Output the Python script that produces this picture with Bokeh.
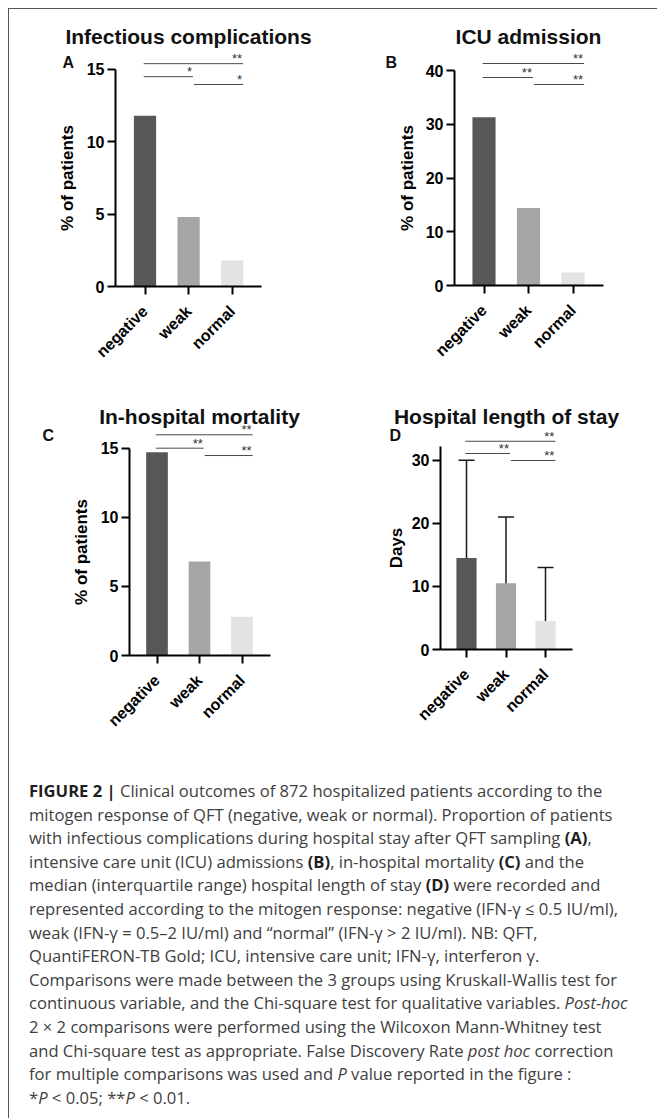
import math
from bokeh.plotting import figure
from bokeh.models import Range1d, FixedTicker, Label, ColumnDataSource, Whisker, TeeHead, Div
from bokeh.layouts import column, row
from bokeh.embed import file_html
from bokeh.resources import INLINE
from bokeh.core.properties import value

# ---------------- data ----------------
categories = ["negative", "weak", "normal"]
infectious_pct = [11.8, 4.8, 1.8]
icu_pct = [31.3, 14.4, 2.4]
mortality_pct = [14.7, 6.8, 2.8]
los_median = [14.5, 10.5, 4.5]
los_q1 = [10, 5, 3]
los_q3 = [30, 21, 13]

# comparisons: negative-normal, negative-weak, weak-normal
sig_A = ["**", "*", "*"]
sig_B = ["**", "**", "**"]
sig_C = ["**", "**", "**"]
sig_D = ["**", "**", "**"]

yticks_A = [0, 5, 10, 15]
yticks_B = [0, 10, 20, 30, 40]
yticks_C = [0, 5, 10, 15]
yticks_D = [0, 10, 20, 30]

# ---------------- styles / layout ----------------
bar_colors = ["#575757", "#a6a6a6", "#e3e3e3"]
FONT = "Liberation Sans"
# horizontal extents of the three significance lines (category units)
sig_x0 = [-0.03, -0.03, 1.12]
sig_x1 = [2.25, 1.10, 2.25]

# layout in pixels (page coordinates): figure origin, frame box, zero line, axis extents,
# category spacing, position of first category, pixels per y unit, title/letter anchors
cfgA = dict(ox=9, oy=9, w=322, fl=40, fr=321, ft=17, y0=286, al=115, ar=261, u=43.6, c0=144.5,
            v=14.47, bw=0.51, ybound=15, tx=188, ty=36, lx=62, ly=62, ls=7, sy=[15.4, 14.5, 13.96])
cfgB = dict(ox=331, oy=9, w=318, fl=360, fr=640, ft=17, y0=285, al=454, ar=603, u=44.5, c0=483.5,
            v=5.375, bw=0.52, ybound=40, tx=528, ty=36, lx=385, ly=62, ls=6, sy=[41.3, 38.7, 37.4])
cfgC = dict(ox=9, oy=389, w=322, fl=35, fr=321, ft=397, y0=655, al=129, ar=270, u=42.5, c0=156.5,
            v=13.82, bw=0.51, ybound=15, tx=199, ty=416, lx=42, ly=435, ls=7, sy=[15.97, 15.0, 14.47])
cfgD = dict(ox=331, oy=389, w=318, fl=360, fr=640, ft=397, y0=649, al=440, ar=572, u=39.5, c0=466,
            v=6.31, bw=0.51, ybound=32.1, tx=506, ty=416, lx=389, ly=435, ls=3, sy=[33.0, 31.06, 29.95])
FIG_H = 380
BOTTOM_PAD = 4


def make_panel(title, letter, ylabel, values, yticks, sig, cfg, q1=None, q3=None):
    u, c0, v = cfg["u"], cfg["c0"], cfg["v"]
    fb = cfg["oy"] + FIG_H - BOTTOM_PAD
    xr = ((cfg["fl"] - c0) / u, (cfg["fr"] - c0) / u)
    xb = ((cfg["al"] - c0) / u, (cfg["ar"] - c0) / u)
    yr = (-(fb - cfg["y0"]) / v, (cfg["y0"] - cfg["ft"]) / v)
    p = figure(width=cfg["w"], height=FIG_H,
               x_range=Range1d(*xr), y_range=Range1d(*yr),
               output_backend="svg", toolbar_location=None,
               min_border_left=cfg["fl"] - cfg["ox"], min_border_right=cfg["ox"] + cfg["w"] - cfg["fr"],
               min_border_top=cfg["ft"] - cfg["oy"], min_border_bottom=BOTTOM_PAD)
    p.outline_line_color = None
    p.background_fill_color = "white"
    p.border_fill_color = "white"
    p.xgrid.visible = False
    p.ygrid.visible = False

    xs = list(range(len(categories)))
    p.vbar(x=xs, top=values, width=cfg["bw"], fill_color=bar_colors, line_color=None)

    if q1 is not None:
        src = ColumnDataSource(dict(x=xs, lower=q1, upper=q3))
        w = Whisker(base="x", lower="lower", upper="upper", source=src,
                    line_color="#1a1a1a", line_width=1.5,
                    upper_head=TeeHead(size=16, line_color="#1a1a1a", line_width=1.5),
                    lower_head=TeeHead(size=16, line_color="#1a1a1a", line_width=1.5))
        p.add_layout(w)

    # significance brackets
    p.segment(x0=sig_x0, y0=cfg["sy"], x1=sig_x1, y1=cfg["sy"], line_color="#4a4a4a", line_width=1)
    p.text(x=sig_x1, y=cfg["sy"], text=sig, text_align="right", text_baseline="alphabetic",
           text_font=value(FONT), text_font_size=value("13px"), text_color="#333333",
           x_offset=-1, y_offset=-5)

    # axes
    for ax in (p.xaxis[0], p.yaxis[0]):
        ax.axis_line_width = 2
        ax.axis_line_color = "black"
        ax.major_tick_line_width = 2
        ax.major_tick_line_color = "black"
        ax.major_tick_out = 8
        ax.major_tick_in = 0
        ax.minor_tick_line_color = None
        ax.major_label_text_font = FONT
        ax.major_label_text_font_style = "bold"
        ax.major_label_text_color = "black"
    p.xaxis.fixed_location = 0
    p.xaxis.ticker = FixedTicker(ticks=xs)
    p.xaxis.bounds = xb
    p.xaxis.major_label_overrides = {i: c for i, c in enumerate(categories)}
    p.xaxis.major_label_orientation = math.pi / 4
    p.xaxis.major_label_text_font_size = "16px"
    p.xaxis.major_label_standoff = 14

    p.yaxis.fixed_location = xb[0]
    p.yaxis.ticker = FixedTicker(ticks=yticks)
    p.yaxis.bounds = (0, cfg["ybound"])
    p.yaxis.major_label_text_font_size = "16px"
    p.yaxis.major_label_standoff = 3
    p.yaxis.axis_label = ylabel
    p.yaxis.axis_label_text_font = FONT
    p.yaxis.axis_label_text_font_style = "bold"
    p.yaxis.axis_label_text_font_size = "17px"
    p.yaxis.axis_label_text_color = "black"
    p.yaxis.axis_label_standoff = cfg["ls"]

    p.add_layout(Label(x=cfg["tx"] - cfg["fl"], y=fb - cfg["ty"], x_units="screen", y_units="screen",
                       text=title, text_align="center", text_baseline="alphabetic", text_font=FONT,
                       text_font_style="bold", text_font_size="21px", text_color="#111111"))
    p.add_layout(Label(x=cfg["lx"] - cfg["fl"], y=fb - cfg["ly"], x_units="screen", y_units="screen",
                       text=letter, text_align="left", text_baseline="alphabetic", text_font=FONT,
                       text_font_style="bold", text_font_size="16px", text_color="#111111"))
    return p


pA = make_panel("Infectious complications", "A", "% of patients", infectious_pct, yticks_A, sig_A, cfgA)
pB = make_panel("ICU admission", "B", "% of patients", icu_pct, yticks_B, sig_B, cfgB)
pC = make_panel("In-hospital mortality", "C", "% of patients", mortality_pct, yticks_C, sig_C, cfgC)
pD = make_panel("Hospital length of stay", "D", "Days", los_median, yticks_D, sig_D, cfgD,
                q1=los_q1, q3=los_q3)

B = "<b style='color:#1e1e1e'>"
caption_lines = [
    B + "FIGURE 2 |</b> Clinical outcomes of 872 hospitalized patients according to the",
    "mitogen response of QFT (negative, weak or normal). Proportion of patients",
    "with infectious complications during hospital stay after QFT sampling " + B + "(A)</b>,",
    "intensive care unit (ICU) admissions " + B + "(B)</b>, in-hospital mortality " + B + "(C)</b> and the",
    "median (interquartile range) hospital length of stay " + B + "(D)</b> were recorded and",
    "represented according to the mitogen response: negative (IFN-γ ≤ 0.5 IU/ml),",
    "weak (IFN-γ = 0.5–2 IU/ml) and “normal” (IFN-γ &gt; 2 IU/ml). NB: QFT,",
    "QuantiFERON-TB Gold; ICU, intensive care unit; IFN-γ, interferon γ.",
    "Comparisons were made between the 3 groups using Kruskall-Wallis test for",
    "continuous variable, and the Chi-square test for qualitative variables. <i>Post-hoc</i>",
    "2 × 2 comparisons were performed using the Wilcoxon Mann-Whitney test",
    "and Chi-square test as appropriate. False Discovery Rate <i>post hoc</i> correction",
    "for multiple comparisons was used and <i>P</i> value reported in the figure :",
    "*<i>P</i> &lt; 0.05; **<i>P</i> &lt; 0.01.",
]
caption_html = ("<div style=\"font-family:'Open Sans',sans-serif;font-size:16.6px;"
                "line-height:23.6px;color:#404040;white-space:nowrap;padding:5px 0 0 15px;\">"
                + "<br>".join(caption_lines) + "</div>")
caption = Div(text=caption_html, width=640, height=340)

layout = column(row(pA, pB), row(pC, pD), caption,
                styles={"margin-left": "8px", "margin-top": "8px",
                        "border-left": "1px solid #555555", "border-top": "1px solid #555555"})

with open("out.html", "w", encoding="utf-8") as f:
    f.write(file_html(layout, INLINE))
